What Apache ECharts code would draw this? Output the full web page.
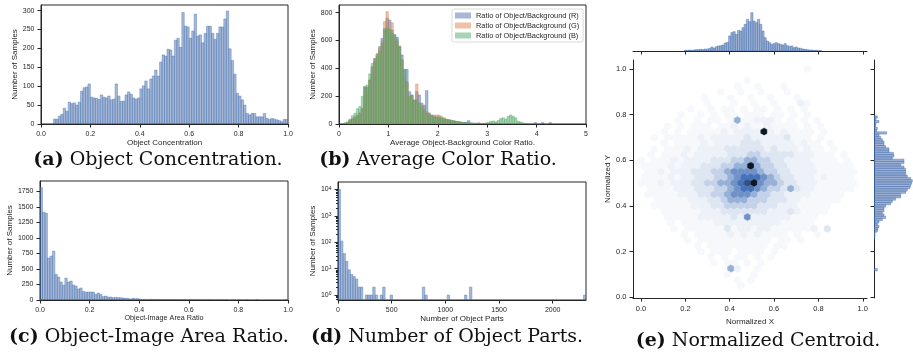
<!DOCTYPE html>
<html>
<head>
<meta charset="utf-8">
<script src="https://cdn.jsdelivr.net/npm/echarts@6/dist/echarts.min.js"></script>
<style>
  html, body { margin: 0; padding: 0; background: #fff; }
  #chart { width: 913px; height: 352px; }
</style>
</head>
<body>
<div id="chart"></div>
<script>
// (a) object concentration, bins of 0.01 starting at 0.05
var concStart = 0.05, concWidth = 0.01;
var concCounts = [13, 13, 21, 26, 42, 34, 58, 54, 56, 50, 58, 87, 96, 98, 106, 71, 69, 68, 65, 77,
  71, 69, 74, 64, 66, 106, 74, 60, 61, 77, 85, 79, 69, 66, 69, 93, 101, 114, 93, 119,
  127, 143, 127, 164, 183, 180, 198, 196, 180, 222, 227, 203, 295, 259, 257, 227, 246, 291, 233, 236,
  215, 240, 259, 259, 240, 224, 240, 257, 257, 278, 299, 199, 168, 132, 81, 74, 64, 50, 28, 24,
  28, 28, 19, 19, 19, 28, 15, 12, 15, 13, 11, 9, 6, 12, 12];

// (b) average colour ratio, bins of 0.05 starting at 0.10
var ratioStart = 0.10, ratioWidth = 0.05;
var ratioR = [5, 12, 25, 35, 45, 60, 75, 110, 265, 262,
  316, 412, 470, 505, 556, 615, 675, 760, 747, 675,
  640, 623, 556, 496, 393, 393, 232, 208, 172, 232,
  208, 150, 135, 240, 80, 65, 53, 48, 45, 40,
  35, 30, 28, 25, 20, 18, 15, 12, 10, 12,
  24, 8, 6, 5, 8, 4, 3, 3, 2, 2,
  1, 1, 0, 1, 0, 0, 1, 0, 0, 0,
  0, 0, 0, 0, 0, 0, 0, 10, 0, 0,
  10, 0, 0, 10, 0];
var ratioG = [5, 10, 30, 40, 50, 60, 80, 110, 263, 240,
  316, 400, 470, 500, 540, 596, 735, 807, 680, 728,
  620, 590, 560, 460, 340, 292, 196, 200, 170, 287,
  150, 137, 110, 90, 70, 60, 65, 65, 65, 55,
  45, 35, 30, 25, 20, 15, 12, 10, 8, 6,
  5, 4, 3, 3, 2, 2, 1, 1, 0, 0];
var ratioB = [8, 15, 35, 60, 77, 110, 125, 200, 273, 280,
  360, 436, 450, 490, 520, 580, 687, 687, 680, 651,
  644, 608, 556, 460, 388, 304, 196, 208, 172, 172,
  148, 125, 100, 80, 65, 60, 55, 50, 53, 45,
  40, 35, 32, 28, 25, 20, 18, 15, 12, 10,
  8, 7, 6, 5, 5, 4, 5, 8, 12, 20,
  22, 15, 25, 40, 45, 35, 55, 65, 55, 45,
  20, 15, 8, 5, 2];
var ratioNames = ['Ratio of Object/Background (R)', 'Ratio of Object/Background (G)', 'Ratio of Object/Background (B)'];

// (c) object-image area ratio, bins of 0.01
var areaStart = 0, areaWidth = 0.01;
var areaCounts = [1810, 1412, 1396, 674, 706, 786, 412, 369, 289, 240,
  353, 289, 305, 240, 225, 177, 193, 139, 128, 128,
  128, 128, 91, 112, 91, 54, 64, 48, 48, 37,
  43, 37, 37, 32, 27, 27, 16, 27, 21, 21,
  12, 10, 10, 8, 12, 9, 8, 10, 7, 6,
  8, 5, 6, 7, 5, 4, 6, 5, 4, 3,
  5, 4, 3, 4, 2, 3, 2, 5, 3, 2,
  1, 2, 1, 1, 2, 1, 0, 1, 1, 0,
  1, 0, 0, 1, 0, 0, 0, 1, 0, 0,
  0, 0, 0, 0, 0, 0, 0, 0, 0, 1];

// (d) number of object parts, 100 bins of 23.1
var partsStart = 0, partsWidth = 23.1;
var partsCounts = [10200, 110, 37, 19, 9, 6, 5, 4, 2, 2,
  0, 1, 1, 1, 2, 1, 0, 1, 2, 0,
  0, 1, 0, 0, 0, 0, 0, 0, 0, 0,
  0, 0, 0, 0, 2, 1, 0, 0, 0, 0,
  0, 0, 0, 0, 1, 0, 0, 0, 0, 0,
  0, 1, 0, 2, 0, 0, 0, 0, 0, 0,
  0, 0, 0, 0, 0, 0, 0, 0, 0, 0,
  0, 0, 0, 0, 0, 0, 0, 0, 0, 0,
  0, 0, 0, 0, 0, 0, 0, 0, 0, 0,
  0, 0, 0, 0, 0, 0, 0, 0, 0, 1];

// (e) hexbin density levels (0 empty .. 9 darkest), top row is y = 1.0, odd rows offset by half a cell
var hexStepX = 0.03, hexStepY = 0.025;
var hexRows = [
  '0000000000000000000000000100000000',
  '0000000000000000000000000000000000',
  '0000000000000000100000000000000000',
  '0000000000000010010001000000000000',
  '0000000000001001001000100000000000',
  '0000000001000100100100010000000000',
  '0000000000100010010010002100000000',
  '0000000100101101011010101000000000',
  '0000001001010110111011010100000000',
  '0000010010110151122210101010000000',
  '0000101011101121211211110101000000',
  '0001010111112122229212111101000000',
  '0010111112122222322222311101000000',
  '0001011112122223332222212110100000',
  '0010111212222333333232221211010000',
  '0101112122222333443333322211101000',
  '1011121222233344554433222211110100',
  '1111212223334455954433222211111100',
  '0112122233344566665443322221111110',
  '1111212233344567776543322212111100',
  '1112122233445567896554332221111110',
  '0111122233344567765443532211111100',
  '0111112223344566654433222211111000',
  '0011111222334555444333221111110000',
  '0011111122233444443332221111100000',
  '0001111112223333333222321111000000',
  '0000111112222232622222211110000000',
  '0000101111122222222221111100000000',
  '0000010111111312212211111120300000',
  '0000001011111212121111010010000000',
  '0000000101111111111101101000000000',
  '0000000010111111111011000000000000',
  '0000000001011101111010000000000000',
  '0000000000101011010100000000000000',
  '0000000000010110101000000000000000',
  '0000000000000520010000000000000000',
  '0000000000000100010000000000000000',
  '0000000000000010100000000000000000',
  '0000000000000001000000000000000000',
  '0000000000000000000000000000000000',
  '0000000000000000000000000000000000'
];
// (e) marginal histograms (bar lengths)
var margXStart = 0.195, margXWidth = 0.01;
var margXCounts = [2, 2, 3, 2, 3, 4, 4, 5, 4, 6, 6, 8, 12, 9, 13, 15, 16, 18, 24, 26,
  45, 55, 58, 50, 62, 60, 70, 80, 95, 88, 115, 90, 85, 95, 80, 60, 40, 30, 25, 20,
  22, 25, 22, 20, 18, 22, 16, 14, 15, 10, 12, 9, 8, 6, 5, 4, 3, 3, 2, 2, 1, 1];
var margYStart = 0.115, margYWidth = 0.01;
var margYCounts = [10, 0, 0, 0, 0, 0, 0, 0, 0, 0, 0, 0, 0, 0,
  2, 3, 3, 10, 12, 15, 10, 15, 25, 35, 30, 25, 30, 30, 35, 50, 55, 65, 80, 80,
  95, 100, 108, 110, 113, 115, 110, 100, 95, 95, 95, 90, 80, 90, 90, 55, 60, 58, 45, 45,
  35, 30, 30, 25, 20, 15, 38, 8, 10, 5, 6, 15, 6, 10];

// tick values
var unitTicks = [0, 0.2, 0.4, 0.6, 0.8, 1.0];
var concYTicks = [0, 50, 100, 150, 200, 250, 300];
var ratioXTicks = [0, 1, 2, 3, 4, 5];
var ratioYTicks = [0, 200, 400, 600, 800];
var areaYTicks = [0, 250, 500, 750, 1000, 1250, 1500, 1750];
var partsXTicks = [0, 500, 1000, 1500, 2000];
var partsYTicks = [1, 10, 100, 1000, 10000];
var partsMinorTicks = [0.7, 0.8, 0.9, 2, 3, 4, 5, 6, 7, 8, 9, 20, 30, 40, 50, 60, 70, 80, 90,
  200, 300, 400, 500, 600, 700, 800, 900, 2000, 3000, 4000, 5000, 6000, 7000, 8000, 9000];

var FONT = 'Liberation Sans';
var INK = '#262626';
var BLUE = 'rgba(76,114,176,0.5)', BLUE_EDGE = 'rgba(76,114,176,0.8)';
var ORANGE = 'rgba(221,132,82,0.5)', ORANGE_EDGE = 'rgba(221,132,82,0.75)';
var GREEN = 'rgba(85,168,104,0.5)', GREEN_EDGE = 'rgba(85,168,104,0.75)';
var hexPalette = [null, 'hsl(217,45%,97.5%)', 'hsl(217,45%,95%)', 'hsl(217,45%,91%)', 'hsl(217,45%,84%)',
  'hsl(217,45%,72%)', 'hsl(217,45%,61%)', 'hsl(217,45%,50%)', 'hsl(217,45%,35%)', 'hsl(217,40%,10%)'];

function bins(start, width, counts) {
  var out = [];
  counts.forEach(function (c, i) {
    if (c > 0) out.push([start + i * width, start + (i + 1) * width, c]);
  });
  return out;
}

function vHist(xi, yi, data, fill, stroke, base, name) {
  return {
    type: 'custom', name: name, xAxisIndex: xi, yAxisIndex: yi, clip: true,
    encode: { x: [0, 1], y: 2 },
    itemStyle: { color: fill },
    data: data,
    renderItem: function (params, api) {
      var a = api.coord([api.value(0), api.value(2)]);
      var b = api.coord([api.value(1), base]);
      return {
        type: 'rect',
        shape: { x: a[0], y: a[1], width: b[0] - a[0], height: b[1] - a[1] },
        style: { fill: fill, stroke: stroke, lineWidth: 0.5 }
      };
    }
  };
}

function hHist(xi, yi, data, fill, stroke) {
  return {
    type: 'custom', xAxisIndex: xi, yAxisIndex: yi, clip: true,
    encode: { x: 2, y: [0, 1] },
    data: data,
    renderItem: function (params, api) {
      var a = api.coord([0, api.value(1)]);
      var b = api.coord([api.value(2), api.value(0)]);
      return {
        type: 'rect',
        shape: { x: a[0], y: a[1], width: b[0] - a[0], height: b[1] - a[1] },
        style: { fill: fill, stroke: stroke, lineWidth: 0.5 }
      };
    }
  };
}

var hexData = [];
hexRows.forEach(function (row, i) {
  var r = hexRows.length - 1 - i;
  var shift = r % 2 ? hexStepX / 2 : 0;
  for (var j = 0; j < row.length; j++) {
    var lv = +row[j];
    if (lv > 0) hexData.push([j * hexStepX + shift, r * hexStepY, lv]);
  }
});

function axis(o) {
  var base = {
    type: 'value',
    splitLine: { show: false },
    axisLine: { show: true, onZero: false, lineStyle: { color: INK, width: 1 } },
    axisTick: { show: true, length: 3.5, lineStyle: { color: INK, width: 1 } },
    axisLabel: { color: INK, fontFamily: FONT, fontSize: 7, margin: 6.5,
      formatter: function (v) { return String(v); } },
    nameLocation: 'middle',
    nameTextStyle: { color: INK, fontFamily: FONT, fontSize: 8 }
  };
  for (var k in o) {
    if (o[k] && typeof o[k] === 'object' && !Array.isArray(o[k]) && base[k]) {
      base[k] = Object.assign({}, base[k], o[k]);
    } else {
      base[k] = o[k];
    }
  }
  return base;
}

var fixed1 = function (v) { return v.toFixed(1); };

var chart = echarts.init(document.getElementById('chart'), null, { renderer: 'canvas' });
var boxed = { show: true, borderColor: INK, borderWidth: 1 };

var option = {
  animation: false,
  backgroundColor: '#fff',
  grid: [
    Object.assign({ left: 41, top: 5, width: 247, height: 119 }, boxed),
    Object.assign({ left: 339, top: 5, width: 247, height: 119 }, boxed),
    Object.assign({ left: 40, top: 181, width: 248, height: 119 }, boxed),
    Object.assign({ left: 338, top: 182, width: 248, height: 118 }, boxed),
    { left: 633, top: 60, width: 234, height: 238 },
    { left: 633, top: 5, width: 234, height: 46 },
    { left: 874, top: 60, width: 39, height: 238 }
  ],
  xAxis: [
    axis({ gridIndex: 0, min: 0, max: 1, name: 'Object Concentration', nameGap: 15,
      axisTick: { customValues: unitTicks }, axisLabel: { customValues: unitTicks, formatter: fixed1 } }),
    axis({ gridIndex: 1, min: 0, max: 5, name: 'Average Object-Background Color Ratio.', nameGap: 15,
      axisTick: { customValues: ratioXTicks }, axisLabel: { customValues: ratioXTicks } }),
    axis({ gridIndex: 2, min: 0, max: 1, name: 'Object-Image Area Ratio', nameGap: 15,
      nameTextStyle: { fontSize: 7.2 },
      axisTick: { customValues: unitTicks }, axisLabel: { customValues: unitTicks, formatter: fixed1 } }),
    axis({ gridIndex: 3, min: 0, max: 2310, name: 'Number of Object Parts', nameGap: 15,
      axisTick: { customValues: partsXTicks }, axisLabel: { customValues: partsXTicks } }),
    axis({ gridIndex: 4, min: -0.036, max: 1.019, name: 'Normalized X', nameGap: 17,
      axisTick: { customValues: unitTicks }, axisLabel: { customValues: unitTicks, formatter: fixed1, fontSize: 7.5 } }),
    axis({ gridIndex: 5, min: -0.036, max: 1.019,
      axisTick: { customValues: unitTicks }, axisLabel: { show: false } }),
    axis({ gridIndex: 6, min: 0, max: 117, show: false })
  ],
  yAxis: [
    axis({ gridIndex: 0, min: 0, max: 315, name: 'Number of Samples', nameGap: 22,
      axisTick: { customValues: concYTicks }, axisLabel: { customValues: concYTicks } }),
    axis({ gridIndex: 1, min: 0, max: 855, name: 'Number of Samples', nameGap: 22,
      axisTick: { customValues: ratioYTicks }, axisLabel: { customValues: ratioYTicks } }),
    axis({ gridIndex: 2, min: 0, max: 1915, name: 'Number of Samples', nameGap: 24,
      axisTick: { customValues: areaYTicks }, axisLabel: { customValues: areaYTicks } }),
    axis({ gridIndex: 3, type: 'log', logBase: 10, min: 0.65, max: 19000, position: 'left',
      name: 'Number of Samples', nameGap: 20,
      axisTick: { customValues: partsYTicks },
      axisLabel: { customValues: partsYTicks,
        formatter: function (v) { return '{b|10}{s|' + Math.round(Math.log10(v)) + '}'; },
        rich: {
          b: { fontFamily: FONT, fontSize: 7, color: INK },
          s: { fontFamily: FONT, fontSize: 5, color: INK, verticalAlign: 'top' }
        } } }),
    axis({ gridIndex: 4, min: -0.004, max: 1.04, name: 'Normalized Y', nameGap: 20,
      axisTick: { customValues: unitTicks }, axisLabel: { customValues: unitTicks, formatter: fixed1, fontSize: 7.5 } }),
    axis({ gridIndex: 5, min: 0, max: 138, show: false }),
    axis({ gridIndex: 6, min: -0.004, max: 1.04, position: 'left',
      axisTick: { customValues: unitTicks }, axisLabel: { show: false } }),
    axis({ gridIndex: 3, type: 'log', logBase: 10, min: 0.65, max: 19000, position: 'left',
      axisLine: { show: false }, axisLabel: { show: false },
      axisTick: { customValues: partsMinorTicks, length: 2 } })
  ],
  legend: {
    data: ratioNames, orient: 'vertical', left: 452, top: 9,
    icon: 'rect', itemWidth: 16, itemHeight: 6, itemGap: 3,
    textStyle: { color: INK, fontFamily: FONT, fontSize: 7.4 },
    borderColor: '#d0d0d0', borderWidth: 0.8, borderRadius: 2,
    padding: [3, 4, 3, 3], backgroundColor: 'rgba(255,255,255,0.85)',
    selectedMode: false
  },
  graphic: [
    ['(a)', ' Object Concentration.', 158, 160],
    ['(b)', ' Average Color Ratio.', 438, 160],
    ['(c)', ' Object-Image Area Ratio.', 149, 337],
    ['(d)', ' Number of Object Parts.', 447, 337],
    ['(e)', ' Normalized Centroid.', 758, 341]
  ].map(function (c) {
    return {
      type: 'text', x: c[2], y: c[3],
      style: {
        text: '{b|' + c[0] + '}' + c[1],
        fontFamily: 'DejaVu Serif', fontSize: 19, fill: '#111',
        align: 'center', verticalAlign: 'middle',
        rich: { b: { fontFamily: 'DejaVu Serif', fontSize: 19, fontWeight: 'bold', color: '#111' } }
      }
    };
  }),
  series: [
    vHist(0, 0, bins(concStart, concWidth, concCounts), BLUE, BLUE_EDGE, 0),
    vHist(1, 1, bins(ratioStart, ratioWidth, ratioR), BLUE, BLUE_EDGE, 0, ratioNames[0]),
    vHist(1, 1, bins(ratioStart, ratioWidth, ratioG), ORANGE, ORANGE_EDGE, 0, ratioNames[1]),
    vHist(1, 1, bins(ratioStart, ratioWidth, ratioB), GREEN, GREEN_EDGE, 0, ratioNames[2]),
    vHist(2, 2, bins(areaStart, areaWidth, areaCounts), BLUE, BLUE_EDGE, 0),
    vHist(3, 3, bins(partsStart, partsWidth, partsCounts), BLUE, BLUE_EDGE, 0.65),
    {
      type: 'custom', xAxisIndex: 4, yAxisIndex: 4, clip: true,
      encode: { x: 0, y: 1 },
      data: hexData,
      renderItem: function (params, api) {
        var c = api.coord([api.value(0), api.value(1)]);
        var w = api.size([hexStepX, 0])[0];
        var h = api.size([0, hexStepY])[1] / 0.75;
        var col = hexPalette[api.value(2)];
        return {
          type: 'polygon',
          shape: { points: [
            [c[0], c[1] - h / 2], [c[0] + w / 2, c[1] - h / 4], [c[0] + w / 2, c[1] + h / 4],
            [c[0], c[1] + h / 2], [c[0] - w / 2, c[1] + h / 4], [c[0] - w / 2, c[1] - h / 4]
          ] },
          style: { fill: col, stroke: col, lineWidth: 0.4 }
        };
      }
    },
    vHist(5, 5, bins(margXStart, margXWidth, margXCounts), 'rgba(76,114,176,0.55)', 'rgba(76,114,176,0.9)', 0),
    hHist(6, 6, bins(margYStart, margYWidth, margYCounts), 'rgba(76,114,176,0.55)', 'rgba(76,114,176,0.9)')
  ]
};
chart.setOption(option);
</script>
</body>
</html>
